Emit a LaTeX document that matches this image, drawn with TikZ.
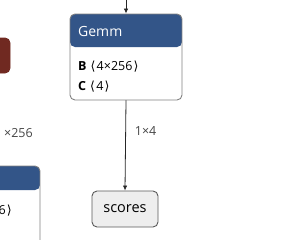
\documentclass[tikz,border=0pt]{standalone}
\usepackage{fontspec}
\setmainfont{Open Sans}
\newfontfamily\anglefont{DejaVu Sans}
\usetikzlibrary{arrows.meta}
\newcommand{\la}{\kern0.8pt{\anglefont\char"27E8}\kern1.2pt}
\newcommand{\ra}{\kern1.2pt{\anglefont\char"27E9}}
\definecolor{layerblue}{RGB}{51,85,136}
\definecolor{actred}{RGB}{112,41,33}
\definecolor{inputgray}{RGB}{238,238,238}
\definecolor{bordergray}{RGB}{128,128,128}
\definecolor{labelgray}{RGB}{70,70,70}

\begin{document}
\begin{tikzpicture}[x=1pt,y=-1pt,line cap=round,line join=round,
  every node/.style={inner sep=0pt,font=\fontsize{12.5}{14}\selectfont},
  nodebox/.style={draw=bordergray,line width=0.9pt,rounded corners=5pt,fill=white,
    minimum width=#1},
  edge/.style={line width=0.8pt,draw=black!85,-{Latex[length=5pt,width=4.5pt]}},
  edgelabel/.style={text=labelgray,font=\fontsize{12.5}{14}\selectfont}]
  \useasboundingbox (0,0) rectangle (294,239);
  \clip (0,0) rectangle (294,239);
  % left neighbours (cut off)
  \node[nodebox=40pt,draw=actred,fill=actred,minimum height=35pt] (relu) at (-10,55.5) {};
  \node[edgelabel,anchor=west] (leftlabel) at (4,133) {\texttimes 256};
  \node[nodebox=100pt,minimum height=120pt,
    path picture={\fill[layerblue] (path picture bounding box.north west)
    rectangle ([yshift=-24pt]path picture bounding box.north east);}] (leftop) at (-10,226) {};
  \node[anchor=east] (leftattr) at (12,211) {6\ra};
  % Gemm
  \node[nodebox=112pt,minimum height=86pt,
    path picture={\fill[layerblue] (path picture bounding box.north west)
    rectangle ([yshift=-33pt]path picture bounding box.north east);}] (gemm) at (126,57) {};
  \node[anchor=west,text=white,font=\fontsize{14}{16}\selectfont] (gemmname) at (78,31) {Gemm};
  \node[anchor=west] (attrb) at (78,66.5) {\textbf{B} \la4\texttimes256\ra};
  \node[anchor=west] (attrc) at (78,86.5) {\textbf{C} \la4\ra};
  % output
  \node[nodebox=66pt,draw=black!65,fill=inputgray,minimum height=36pt,
    font=\fontsize{14.5}{16}\selectfont] (scores) at (125,209) {scores};
  \coordinate (src) at (126,-2);
  \draw[edge] (src) -- (gemm.north);
  \draw[edge] (gemm.south) -- node[edgelabel,anchor=west,xshift=9pt,yshift=14.5pt] (shape) {1\texttimes 4} (scores.north);
\end{tikzpicture}
\end{document}
